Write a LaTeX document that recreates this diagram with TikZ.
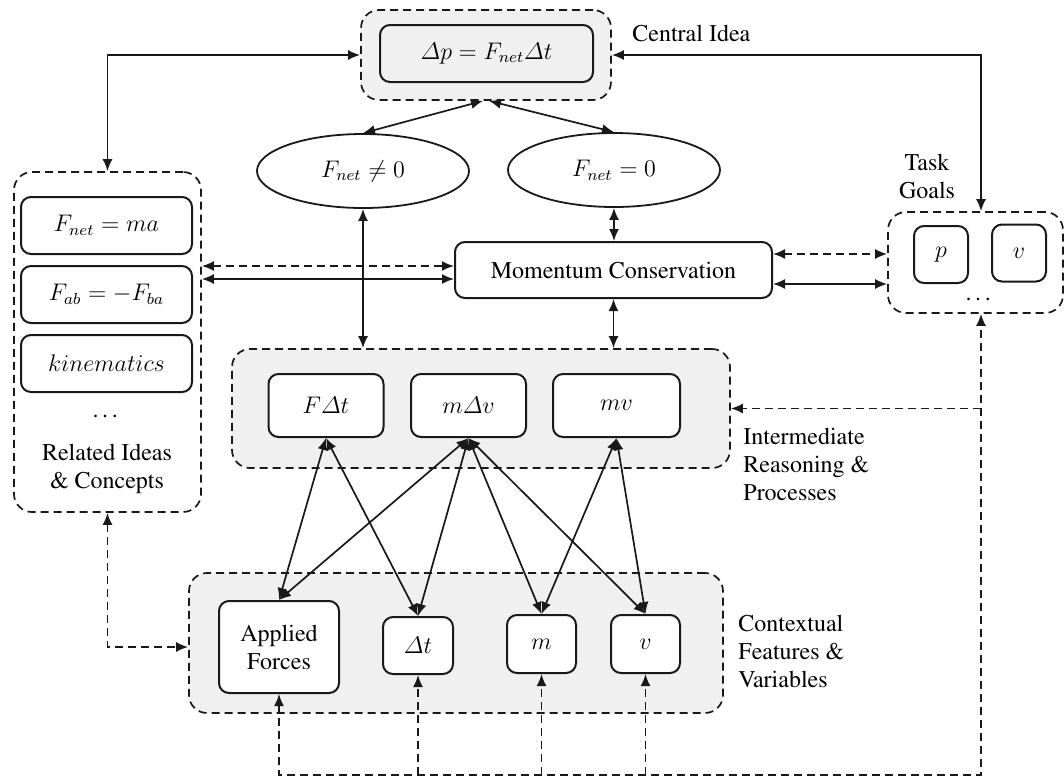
\documentclass[tikz,border=0pt]{standalone}
\usepackage{amsmath}
\usepackage[T1]{fontenc}
\usepackage{times}
\usetikzlibrary{arrows.meta,positioning,shapes.geometric}
\tikzset{
	>={Latex[length=6pt,width=5pt]},
	every node/.append style={font=\fontsize{12}{14}\selectfont},
	idee/.style={
		rectangle,
		rounded corners=5pt,
		draw=black!90, line width=1pt,
		fill=white,
		inner sep=1pt,
		minimum height=28.5pt,
		align=center},
	gruppe/.style={
		rectangle,
		rounded corners=9pt,
		draw=black!90, line width=0.85pt,
		dash pattern=on 4pt off 2.5pt,
		fill=black!6},
	oval/.style={
		ellipse,
		draw=black!90, line width=0.9pt,
		fill=white,
		minimum width=106pt,
		minimum height=37pt},
	line/.style={draw=black!90, line width=0.85pt, <->},
	dline/.style={line, dash pattern=on 4pt off 2.5pt},
	dpfeil/.style={draw=black!90, line width=0.85pt, ->, dash pattern=on 4pt off 2.5pt},
	grplabel/.style={inner sep=0pt, align=left, anchor=west},
}

\begin{document}
\begin{tikzpicture}
	[x=0.5pt, y=-0.5pt]
	\useasboundingbox (0,0) rectangle (1064,777);
	% groups
	\node[gruppe, minimum width=125pt, minimum height=45pt] (zentral) at (486,55) {};
	\node[gruppe, fill=white, minimum width=93.5pt, minimum height=170pt] (verwandt) at (107.5,342) {};
	\node[gruppe, fill=white, minimum width=87.5pt, minimum height=50.5pt] (ziel) at (975.5,262.5) {};
	\node[gruppe, minimum width=249pt, minimum height=59.5pt] (zwischen) at (481,408.5) {};
	\node[gruppe, minimum width=267pt, minimum height=70pt] (kontext) at (456,643) {};
	% central idea
	\node[idee, fill=black!6, minimum width=106.5pt] (dp) at (486.5,53.5) {$\varDelta p = F_{net}\varDelta t$};
	\node[grplabel] (lzentral) at (632,33) {Central Idea};
	% related ideas
	\node[idee, minimum width=85.5pt] (fma) at (106.5,225.5) {$F_{net} = ma$};
	\node[idee, minimum width=85.5pt] (fab) at (106.5,294.5) {$F_{ab} = -F_{ba}$};
	\node[idee, minimum width=85.5pt] (kin) at (106.5,363.5) {$kinematics$};
	\node[anchor=base] (vpunkte) at (107,417) {\dots};
	\node[align=center] (lverwandt) at (107,469) {Related Ideas\\\& Concepts};
	% task goals
	\node[idee, minimum width=27pt] (zp) at (941,254.5) {$p$};
	\node[idee, minimum width=27pt] (zv) at (1019,253) {$v$};
	\node[anchor=base] (zpunkte) at (980,300) {\dots};
	\node[align=center] (lziel) at (927,176) {Task\\Goals};
	% conditions
	\node[oval] (fungleich) at (363,171) {$F_{net} \neq 0$};
	\node[oval] (fnull) at (614,170) {$F_{net} = 0$};
	\node[idee, minimum width=158.5pt, minimum height=28pt] (impuls) at (613.5,270) {Momentum Conservation};
	% intermediate reasoning
	\node[idee, minimum width=57.5pt, minimum height=31.5pt] (fdt) at (326,405.5) {$F\varDelta t$};
	\node[idee, minimum width=57.5pt, minimum height=31.5pt] (mdv) at (468.5,405.5) {$m\varDelta v$};
	\node[idee, minimum width=63.5pt, minimum height=31.5pt] (mv) at (616.5,405.5) {$mv$};
	\node[grplabel] (lzwischen) at (743,464) {Intermediate\\Reasoning \&\\Processes};
	% contextual features
	\node[idee, minimum width=60pt, minimum height=46pt] (angewandt) at (279,647) {Applied\\Forces};
	\node[idee, minimum width=35pt] (dt) at (418,645.5) {$\varDelta t$};
	\node[idee, minimum width=34.5pt, minimum height=29pt] (km) at (541.5,644) {$m$};
	\node[idee, minimum width=34.5pt, minimum height=29pt] (kv) at (645.5,644) {$v$};
	\node[grplabel] (lkontext) at (738,651) {Contextual\\Features \&\\Variables};
	% connectors
	\coordinate (rechts) at (981,775);
	\draw[line] (zentral.west) -| (verwandt.north);
	\draw[line] (zentral.east) -| (ziel.north -| rechts);
	\draw[line] (fungleich.north) -- ([xshift=-1.5pt]zentral.south);
	\draw[line] (fnull.north) -- ([xshift=1.5pt]zentral.south);
	\draw[line] (fnull.south) -- (fnull.south |- impuls.north);
	\draw[line] (fungleich.south) -- (fungleich.south |- zwischen.north);
	\draw[line] (impuls.south) -- (impuls.south |- zwischen.north);
	\coordinate (ml1) at ([yshift=2pt]impuls.west);
	\coordinate (ml2) at ([yshift=-4.5pt]impuls.west);
	\coordinate (mr1) at ([yshift=8pt]impuls.east);
	\coordinate (mr2) at ([yshift=-7pt]impuls.east);
	\draw[dline] (ml1 -| verwandt.east) -- (ml1);
	\draw[line] (ml2 -| verwandt.east) -- (ml2);
	\draw[dline] (mr1) -- (mr1 -| ziel.west);
	\draw[line] (mr2) -- (mr2 -| ziel.west);
	\draw[line] (fdt.south) -- (angewandt.north);
	\draw[line] (fdt.south) -- (dt.north);
	\draw[line] (mdv.south) -- (angewandt.north);
	\draw[line] (mdv.south) -- (dt.north);
	\draw[line] (mdv.south) -- (km.north);
	\draw[line] (mdv.south) -- (kv.north);
	\draw[line] (mv.south) -- (km.north);
	\draw[line] (mv.south) -- (kv.north);
	\draw[dline] (verwandt.south) |- (kontext.west |- angewandt.west);
	\draw[dline] (angewandt.south) -- (angewandt.south |- rechts) -- (rechts) -- (rechts |- ziel.south);
	\draw[dpfeil] (dt.south |- rechts) -- (dt.south);
	\draw[dpfeil] (km.south |- rechts) -- (km.south);
	\draw[dpfeil] (kv.south |- rechts) -- (kv.south);
	\draw[dpfeil] (rechts |- zwischen.east) -- (zwischen.east);
\end{tikzpicture}
\end{document}
